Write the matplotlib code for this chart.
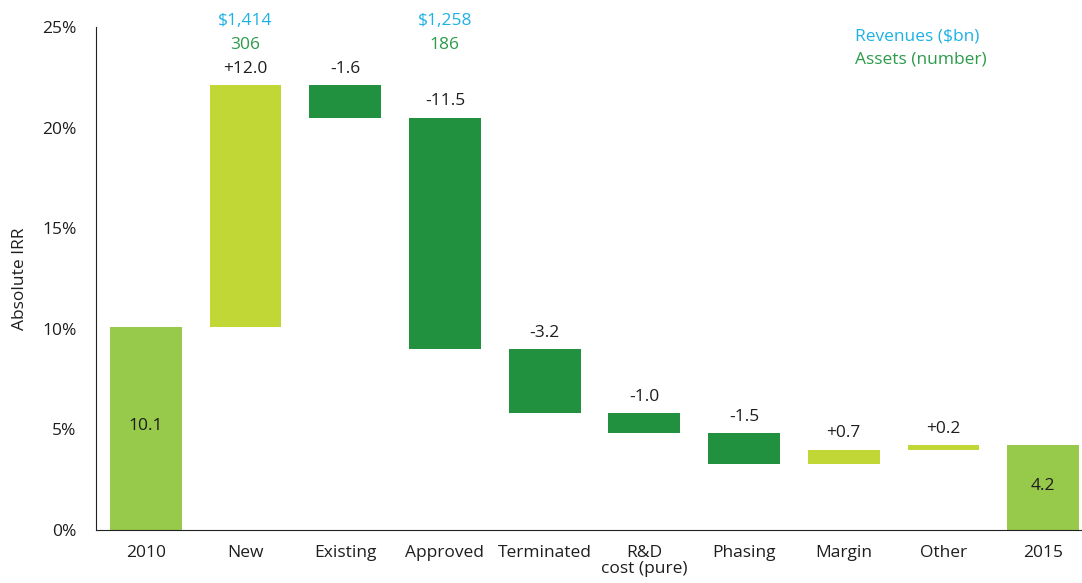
import numpy as np
import matplotlib.pyplot as plt

plt.rcParams['font.family'] = ['Open Sans', 'DejaVu Sans']

categories = ['2010', 'New', 'Existing', 'Approved', 'Terminated', 'R&D\ncost (pure)',
              'Phasing', 'Margin', 'Other', '2015']
changes = [10.1, 12.0, -1.6, -11.5, -3.2, -1.0, -1.5, 0.7, 0.2, 4.2]
is_total = [True, False, False, False, False, False, False, False, False, True]
revenues = {1: '$1,414', 3: '$1,258'}
assets = {1: '306', 3: '186'}

c_total = '#97c94b'
c_pos = '#c0d736'
c_neg = '#21913f'
c_blue = '#1fb1e6'
c_green = '#2c9b4a'
c_text = '#1e1e1e'
fs = 12.5

fig = plt.figure(figsize=(10.82, 5.83), dpi=100)
ax = fig.add_axes([0.0887, 0.0909, 0.9113, 0.8628])

x = np.arange(len(categories))
bottoms = []
heights = []
colors = []
run = 0.0
for i, v in enumerate(changes):
    if is_total[i]:
        bottoms.append(0)
        heights.append(v)
        colors.append(c_total)
        run = v
    else:
        if v >= 0:
            bottoms.append(run)
            colors.append(c_pos)
        else:
            bottoms.append(run + v)
            colors.append(c_neg)
        heights.append(abs(v))
        run += v

ax.bar(x, heights, bottom=bottoms, width=0.72, color=colors, zorder=2)

for i, v in enumerate(changes):
    top = bottoms[i] + heights[i]
    if is_total[i]:
        ax.text(x[i], top / 2 + 0.1, f'{v:.1f}', ha='center', va='center',
                fontsize=fs, color=c_text)
    else:
        lab = f'+{v:.1f}' if v > 0 else f'{v:.1f}'
        ax.text(x[i], top + 0.4, lab, ha='center', va='bottom', fontsize=fs, color=c_text)
        if i in revenues:
            ax.text(x[i], 24.1, assets[i], ha='center', va='center', fontsize=fs, color=c_green)
            ax.text(x[i], 25.3, revenues[i], ha='center', va='center', fontsize=fs, color=c_blue)

ax.text(0.77, 0.982, 'Revenues ($bn)', transform=ax.transAxes, fontsize=fs,
        color=c_blue, va='center', ha='left')
ax.text(0.77, 0.936, 'Assets (number)', transform=ax.transAxes, fontsize=fs,
        color=c_green, va='center', ha='left')

ax.set_xlim(-0.5, 9.39)
ax.set_ylim(0, 25)
ax.set_yticks([0, 5, 10, 15, 20, 25])
ax.set_yticklabels([f'{t}%' for t in [0, 5, 10, 15, 20, 25]])
ax.set_xticks(x)
ax.set_xticklabels(categories, va='top', linespacing=1.0)
ax.tick_params(axis='both', length=0, labelsize=fs, colors=c_text, pad=11)
ax.tick_params(axis='y', pad=14)
ax.spines['top'].set_visible(False)
ax.spines['right'].set_visible(False)
ax.spines['left'].set_color('#222222')
ax.spines['bottom'].set_color('#222222')
ax.set_ylabel('Absolute IRR', fontsize=fs, color=c_text, labelpad=10)

fig.savefig('out.png', dpi=100)
